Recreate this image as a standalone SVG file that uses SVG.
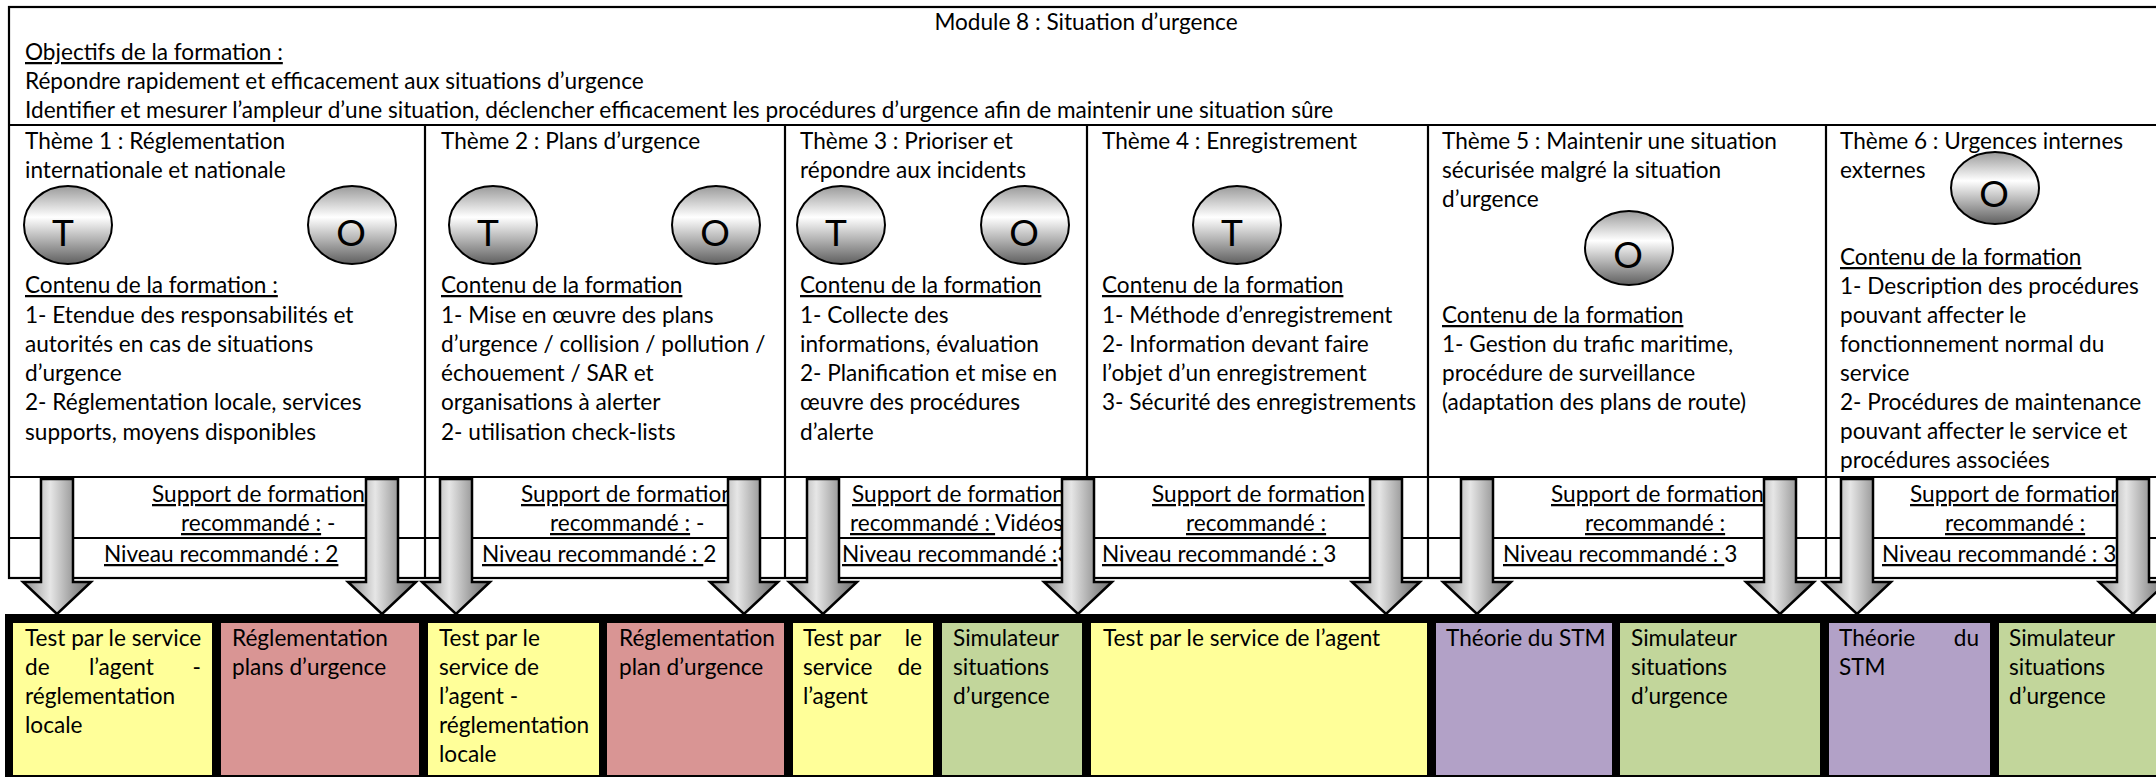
<svg xmlns="http://www.w3.org/2000/svg" width="2156" height="777" viewBox="0 0 2156 777">
<defs>
<style>
text{font-family:Lato,"Liberation Sans",sans-serif;font-size:22.6px;fill:#000}
.u{text-decoration:underline}
.big{font-size:37px;text-anchor:middle}
.ln{stroke:#000;stroke-width:2.2;fill:none}
.el{fill:url(#gEl);stroke:#000;stroke-width:2}
.arr{fill:url(#gArr);stroke:#000;stroke-width:2.5;stroke-linejoin:miter}
.y{fill:#FFFF99}.p{fill:#D99594}.g{fill:#C2D69B}.v{fill:#B2A1C7}
</style>
<linearGradient id="gEl" x1="0" y1="0" x2="0" y2="1">
<stop offset="0" stop-color="#9a9a9a"/><stop offset="0.4" stop-color="#ffffff"/><stop offset="1" stop-color="#5f5f5f"/>
</linearGradient>
<linearGradient id="gArr" x1="0" y1="0" x2="1" y2="0">
<stop offset="0" stop-color="#8c8c8c"/><stop offset="0.4" stop-color="#e6e6e6"/><stop offset="0.75" stop-color="#999"/><stop offset="1" stop-color="#707070"/>
</linearGradient>
<path id="arrow" d="M-16,479 L16,479 L16,582 L34,582 L0,614 L-34,582 L-16,582 Z"/>
</defs>

<g id="table">
<rect x="9" y="7" width="2160" height="571" class="ln"/>
<line x1="9" y1="125" x2="2160" y2="125" class="ln"/>
<line x1="9" y1="477" x2="2160" y2="477" class="ln"/>
<line x1="9" y1="538" x2="2160" y2="538" class="ln"/>
<line x1="425" y1="125" x2="425" y2="578" class="ln"/>
<line x1="785" y1="125" x2="785" y2="578" class="ln"/>
<line x1="1087" y1="125" x2="1087" y2="578" class="ln"/>
<line x1="1428" y1="125" x2="1428" y2="578" class="ln"/>
<line x1="1826" y1="125" x2="1826" y2="578" class="ln"/>
</g>

<g id="header">
<text x="1086" y="30" text-anchor="middle">Module 8 : Situation d’urgence</text>
<text x="25" y="60" class="u">Objectifs de la formation :</text>
<text x="25" y="89">Répondre rapidement et efficacement aux situations d’urgence</text>
<text x="25" y="118">Identifier et mesurer l’ampleur d’une situation, déclencher efficacement les procédures d’urgence afin de maintenir une situation sûre</text>
</g>

<g id="theme1">
<text x="25" y="149">Thème 1 : Réglementation</text>
<text x="25" y="178">internationale et nationale</text>
<ellipse cx="68" cy="225" rx="44" ry="39" class="el"/><text x="63" y="246" class="big">T</text>
<ellipse cx="352" cy="225" rx="44" ry="39" class="el"/><text x="351" y="246" class="big">O</text>
<text x="25" y="293" class="u">Contenu de la formation :</text>
<text x="25" y="323">1- Etendue des responsabilités et</text>
<text x="25" y="352">autorités en cas de situations</text>
<text x="25" y="381">d’urgence</text>
<text x="25" y="410">2- Réglementation locale, services</text>
<text x="25" y="440">supports, moyens disponibles</text>
</g>

<g id="theme2">
<text x="441" y="149">Thème 2 : Plans d’urgence</text>
<ellipse cx="493" cy="225" rx="44" ry="39" class="el"/><text x="488" y="246" class="big">T</text>
<ellipse cx="716" cy="225" rx="44" ry="39" class="el"/><text x="715" y="246" class="big">O</text>
<text x="441" y="293" class="u">Contenu de la formation</text>
<text x="441" y="323">1- Mise en œuvre des plans</text>
<text x="441" y="352">d’urgence / collision / pollution /</text>
<text x="441" y="381">échouement / SAR et</text>
<text x="441" y="410">organisations à alerter</text>
<text x="441" y="440">2- utilisation check-lists</text>
</g>

<g id="theme3">
<text x="800" y="149">Thème 3 : Prioriser et</text>
<text x="800" y="178">répondre aux incidents</text>
<ellipse cx="841" cy="225" rx="44" ry="39" class="el"/><text x="836" y="246" class="big">T</text>
<ellipse cx="1025" cy="225" rx="44" ry="39" class="el"/><text x="1024" y="246" class="big">O</text>
<text x="800" y="293" class="u">Contenu de la formation</text>
<text x="800" y="323">1- Collecte des</text>
<text x="800" y="352">informations, évaluation</text>
<text x="800" y="381">2- Planification et mise en</text>
<text x="800" y="410">œuvre des procédures</text>
<text x="800" y="440">d’alerte</text>
</g>

<g id="theme4">
<text x="1102" y="149">Thème 4 : Enregistrement</text>
<ellipse cx="1237" cy="225" rx="44" ry="39" class="el"/><text x="1232" y="246" class="big">T</text>
<text x="1102" y="293" class="u">Contenu de la formation</text>
<text x="1102" y="323">1- Méthode d’enregistrement</text>
<text x="1102" y="352">2- Information devant faire</text>
<text x="1102" y="381">l’objet d’un enregistrement</text>
<text x="1102" y="410">3- Sécurité des enregistrements</text>
</g>

<g id="theme5">
<text x="1442" y="149">Thème 5 : Maintenir une situation</text>
<text x="1442" y="178">sécurisée malgré la situation</text>
<text x="1442" y="207">d’urgence</text>
<ellipse cx="1629" cy="248" rx="44" ry="37" class="el"/><text x="1628" y="268" class="big">O</text>
<text x="1442" y="323" class="u">Contenu de la formation</text>
<text x="1442" y="352">1- Gestion du trafic maritime,</text>
<text x="1442" y="381">procédure de surveillance</text>
<text x="1442" y="410">(adaptation des plans de route)</text>
</g>

<g id="theme6">
<text x="1840" y="149">Thème 6 : Urgences internes</text>
<text x="1840" y="178">externes</text>
<ellipse cx="1995" cy="188" rx="44" ry="36" class="el"/><text x="1994" y="207" class="big">O</text>
<text x="1840" y="265" class="u">Contenu de la formation</text>
<text x="1840" y="294">1- Description des procédures</text>
<text x="1840" y="323">pouvant affecter le</text>
<text x="1840" y="352">fonctionnement normal du</text>
<text x="1840" y="381">service</text>
<text x="1840" y="410">2- Procédures de maintenance</text>
<text x="1840" y="439">pouvant affecter le service et</text>
<text x="1840" y="468">procédures associées</text>
</g>

<g id="support">
<text x="152" y="502" class="u">Support de formation</text>
<text x="181" y="531"><tspan class="u">recommandé :</tspan> -</text>
<text x="104" y="562" class="u">Niveau recommandé : 2</text>

<text x="521" y="502" class="u">Support de formation</text>
<text x="550" y="531"><tspan class="u">recommandé :</tspan> -</text>
<text x="482" y="562"><tspan class="u">Niveau recommandé : </tspan>2</text>

<text x="852" y="502" class="u">Support de formation</text>
<text x="850" y="531"><tspan class="u">recommandé : </tspan>Vidéos</text>
<text x="842" y="562"><tspan class="u">Niveau recommandé :</tspan>3</text>

<text x="1152" y="502" class="u">Support de formation</text>
<text x="1186" y="531" class="u">recommandé :</text>
<text x="1102" y="562"><tspan class="u">Niveau recommandé : </tspan>3</text>

<text x="1551" y="502" class="u">Support de formation</text>
<text x="1585" y="531" class="u">recommandé :</text>
<text x="1503" y="562"><tspan class="u">Niveau recommandé : </tspan>3</text>

<text x="1910" y="502" class="u">Support de formation</text>
<text x="1945" y="531" class="u">recommandé :</text>
<text x="1882" y="562" class="u">Niveau recommandé : 3</text>
</g>

<g id="connectors">
<use href="#arrow" x="57" class="arr"/>
<use href="#arrow" x="382" class="arr"/>
<use href="#arrow" x="456" class="arr"/>
<use href="#arrow" x="744" class="arr"/>
<use href="#arrow" x="823" class="arr"/>
<use href="#arrow" x="1078" class="arr"/>
<use href="#arrow" x="1386" class="arr"/>
<use href="#arrow" x="1477" class="arr"/>
<use href="#arrow" x="1780" class="arr"/>
<use href="#arrow" x="1857" class="arr"/>
<use href="#arrow" x="2133" class="arr"/>
</g>

<g id="methods">
<rect x="5" y="614" width="2160" height="163" fill="#000"/>
<g id="m1"><rect x="13" y="623" width="199" height="152" class="y"/>
<text x="25" y="646">Test par le service</text>
<text y="675"><tspan x="25">de</tspan><tspan x="89">l’agent</tspan><tspan x="201" text-anchor="end">-</tspan></text>
<text x="25" y="704">réglementation</text>
<text x="25" y="733">locale</text></g>
<g id="m2"><rect x="221" y="623" width="198" height="152" class="p"/>
<text x="232" y="646">Réglementation</text>
<text x="232" y="675">plans d’urgence</text></g>
<g id="m3"><rect x="428" y="623" width="171" height="152" class="y"/>
<text x="439" y="646">Test par le</text>
<text x="439" y="675">service de</text>
<text x="439" y="704">l’agent -</text>
<text x="439" y="733">réglementation</text>
<text x="439" y="762">locale</text></g>
<g id="m4"><rect x="607" y="623" width="177" height="152" class="p"/>
<text x="619" y="646">Réglementation</text>
<text x="619" y="675">plan d’urgence</text></g>
<g id="m5"><rect x="793" y="623" width="140" height="152" class="y"/>
<text y="646"><tspan x="803">Test</tspan><tspan x="849">par</tspan><tspan x="922" text-anchor="end">le</tspan></text>
<text y="675"><tspan x="803">service</tspan><tspan x="922" text-anchor="end">de</tspan></text>
<text x="803" y="704">l’agent</text></g>
<g id="m6"><rect x="942" y="623" width="140" height="152" class="g"/>
<text x="953" y="646">Simulateur</text>
<text x="953" y="675">situations</text>
<text x="953" y="704">d’urgence</text></g>
<g id="m7"><rect x="1091" y="623" width="336" height="152" class="y"/>
<text x="1103" y="646">Test par le service de l’agent</text></g>
<g id="m8"><rect x="1436" y="623" width="176" height="152" class="v"/>
<text x="1446" y="646">Théorie du STM</text></g>
<g id="m9"><rect x="1620" y="623" width="200" height="152" class="g"/>
<text x="1631" y="646">Simulateur</text>
<text x="1631" y="675">situations</text>
<text x="1631" y="704">d’urgence</text></g>
<g id="m10"><rect x="1829" y="623" width="161" height="152" class="v"/>
<text y="646"><tspan x="1839">Théorie</tspan><tspan x="1979" text-anchor="end">du</tspan></text>
<text x="1839" y="675">STM</text></g>
<g id="m11"><rect x="1999" y="623" width="170" height="152" class="g"/>
<text x="2009" y="646">Simulateur</text>
<text x="2009" y="675">situations</text>
<text x="2009" y="704">d’urgence</text></g>
</g>
</svg>
